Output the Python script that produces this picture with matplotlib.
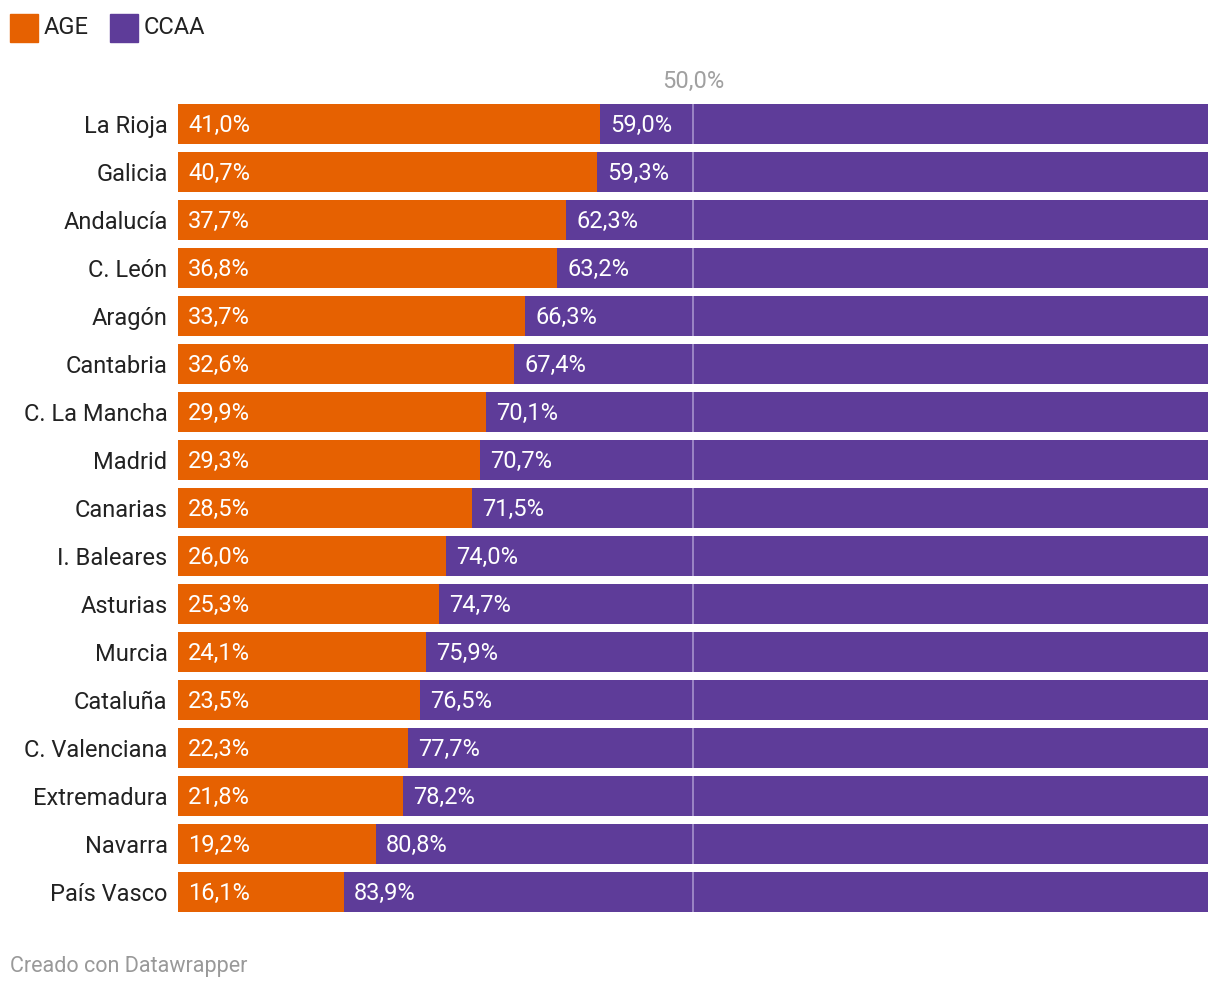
import matplotlib.pyplot as plt
import matplotlib.patches as mpatches
from matplotlib.transforms import ScaledTranslation

plt.rcParams['font.family'] = ['Roboto', 'DejaVu Sans']

REGIONS = ['La Rioja', 'Galicia', 'Andalucía', 'C. León', 'Aragón', 'Cantabria',
           'C. La Mancha', 'Madrid', 'Canarias', 'I. Baleares', 'Asturias',
           'Murcia', 'Cataluña', 'C. Valenciana', 'Extremadura', 'Navarra',
           'País Vasco']
AGE = [41.0, 40.7, 37.7, 36.8, 33.7, 32.6, 29.9, 29.3, 28.5, 26.0, 25.3,
       24.1, 23.5, 22.3, 21.8, 19.2, 16.1]
CCAA = [59.0, 59.3, 62.3, 63.2, 66.3, 67.4, 70.1, 70.7, 71.5, 74.0, 74.7,
        75.9, 76.5, 77.7, 78.2, 80.8, 83.9]
SERIES = ['AGE', 'CCAA']

C_AGE = '#e66101'
C_CCAA = '#5e3c99'
C_LINE = '#a692cc'
BAR_H = 40 / 48

W, H = 1220, 990
fig = plt.figure(figsize=(W / 100, H / 100), dpi=100)
ax = fig.add_axes([178 / W, (H - 912) / H, 1030 / W, 808 / H])

pos = list(range(len(REGIONS)))
ax.barh(pos, AGE, height=BAR_H, color=C_AGE)
ax.barh(pos, CCAA, left=AGE, height=BAR_H, color=C_CCAA)
for p in pos:
    ax.vlines(50, p - BAR_H / 2, p + BAR_H / 2, color=C_LINE, lw=1.2, zorder=3)

fs = 17
off = 1.0  # % units, about 10px
up = ax.transData + ScaledTranslation(0, 1.2 / 100, fig.dpi_scale_trans)
for p, a, c in zip(pos, AGE, CCAA):
    ax.text(off, p, f'{a:.1f}%'.replace('.', ','), ha='left',
            va='center_baseline', color='white', fontsize=fs, transform=up)
    ax.text(a + off, p, f'{c:.1f}%'.replace('.', ','), ha='left',
            va='center_baseline', color='white', fontsize=fs, transform=up)

ax.set_xlim(0, 100)
ax.set_ylim(len(REGIONS) - 1 + BAR_H / 2, -BAR_H / 2)
ax.set_yticks(pos)
ax.set_yticklabels(REGIONS, fontsize=fs, color='#222222', va='center_baseline')
for t in ax.get_yticklabels():
    t.set_transform(t.get_transform() + ScaledTranslation(0, 1.2 / 100, fig.dpi_scale_trans))
ax.tick_params(axis='y', length=0, pad=7.5)
ax.set_xticks([])
for s in ax.spines.values():
    s.set_visible(False)

ax.text(50, -0.5 - 0.44, '50,0%', ha='center', va='center_baseline',
        color='#a0a0a0', fontsize=fs)

# legend
for x0, lbl, col in [(10, SERIES[0], C_AGE), (110, SERIES[1], C_CCAA)]:
    fig.patches.append(mpatches.Rectangle((x0 / W, (H - 42) / H), 28 / W, 28 / H,
                                          transform=fig.transFigure, color=col))
    fig.text((x0 + 34) / W, (H - 25.5) / H, lbl, ha='left', va='center_baseline',
             fontsize=fs, color='#222222')

fig.text(10 / W, (H - 964) / H, 'Creado con Datawrapper', ha='left',
         va='center_baseline', fontsize=15.5, color='#999999')

fig.savefig('out.png', dpi=100, facecolor='white')
